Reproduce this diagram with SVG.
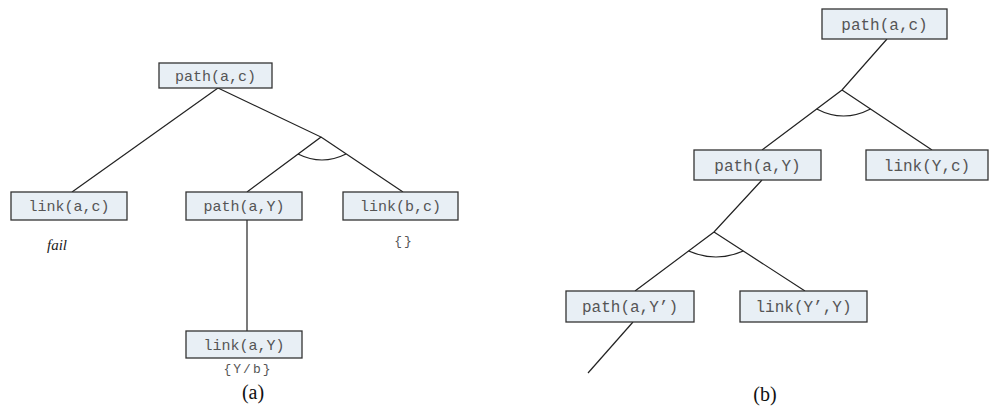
<svg xmlns="http://www.w3.org/2000/svg" width="993" height="418" viewBox="0 0 993 418">
<style>
.box{fill:#e8eff5;stroke:#333;stroke-width:1.3}
.t{font-family:"Liberation Mono","DejaVu Sans Mono",monospace;font-size:15px;fill:#555;text-anchor:middle}
.tb{font-size:16px}
.e{fill:none;stroke:#222;stroke-width:1.2}
.s{font-family:"Liberation Mono",monospace;font-size:13px;fill:#555;text-anchor:middle;letter-spacing:2px}
.cap{font-family:"Liberation Serif","Times New Roman",serif;font-size:20px;fill:#111;text-anchor:middle}
</style>
<rect width="993" height="418" fill="#fff"/>
<g id="connectors">
<path class="e" d="M218,88 L72,192"/>
<path class="e" d="M218,88 L321,137 L247,192 M321,137 L403,192"/>
<path class="e" d="M298,154 Q322,166 346,154"/>
<path class="e" d="M247,220 L247,331"/>
<path class="e" d="M887,39 L842,90 L762,150 M842,90 L932,150"/>
<path class="e" d="M816.7,109 Q843.5,123 870.5,109"/>
<path class="e" d="M762,180 L714,232 L635,291 M714,232 L805,291"/>
<path class="e" d="M688.6,251 Q716,263 743.3,251"/>
<path class="e" d="M633,322 L588,373"/>
</g>
<g id="a-path-a-c"><rect class="box" x="159" y="63" width="113" height="25"/><text class="t" x="215.5" y="81">path(a,c)</text></g>
<g id="a-link-a-c"><rect class="box" x="11" y="192" width="116" height="28"/><text class="t" x="69" y="211">link(a,c)</text></g>
<g id="a-path-a-Y"><rect class="box" x="186" y="192" width="116" height="28"/><text class="t" x="244" y="211">path(a,Y)</text></g>
<g id="a-link-b-c"><rect class="box" x="343" y="192" width="115" height="28"/><text class="t" x="400.5" y="211">link(b,c)</text></g>
<g id="a-link-a-Y"><rect class="box" x="186" y="331" width="116" height="27"/><text class="t" x="244" y="349.5">link(a,Y)</text></g>
<text x="57" y="250" font-family="Liberation Serif,serif" font-style="italic" font-size="15" fill="#222" text-anchor="middle">fail</text>
<text class="s" x="404" y="245">{}</text>
<text class="s" x="248" y="373">{Y/b}</text>
<text class="cap" x="253" y="399">(a)</text>
<g id="b-path-a-c"><rect class="box" x="822" y="9" width="125" height="30"/><text class="t tb" x="884.5" y="29.5">path(a,c)</text></g>
<g id="b-path-a-Y"><rect class="box" x="694" y="150" width="127" height="30"/><text class="t tb" x="757.5" y="170.5">path(a,Y)</text></g>
<g id="b-link-Y-c"><rect class="box" x="866" y="150" width="122" height="30"/><text class="t tb" x="927" y="170.5">link(Y,c)</text></g>
<g id="b-path-a-Y2"><rect class="box" x="566" y="291" width="128" height="31"/><text class="t tb" x="630" y="312">path(a,Y’)</text></g>
<g id="b-link-Y2-Y"><rect class="box" x="740" y="291" width="127" height="31"/><text class="t tb" x="803.5" y="312">link(Y’,Y)</text></g>
<text class="cap" x="765" y="401">(b)</text>
</svg>
